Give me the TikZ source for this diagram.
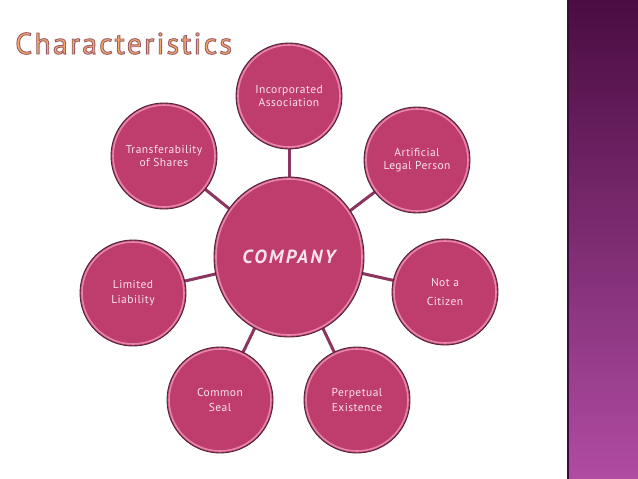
\documentclass[tikz,border=0pt]{standalone}
\usepackage{fontspec}
\setmainfont{PT Sans}
\usetikzlibrary{shapes.geometric,calc}
\definecolor{circfill}{HTML}{BE3D6C}
\definecolor{circline}{HTML}{4E2236}
\definecolor{hl}{HTML}{E585AC}
\definecolor{conncol}{HTML}{8A3660}
\definecolor{txt}{HTML}{FBE3EE}
\definecolor{bartop}{HTML}{4A0C42}
\definecolor{barmid}{HTML}{7C2E72}
\definecolor{barbot}{HTML}{B04CA2}
\definecolor{barline}{HTML}{3A0C32}
\definecolor{titlefill}{HTML}{F3A868}
\pgfdeclarelayer{bg}
\pgfsetlayers{bg,main}
\newcommand{\outlinetext}[1]{\special{pdf:literal direct 2 Tr 0.9 w 0.60 0.36 0.42 RG}#1\special{pdf:literal direct 0 Tr}}
\tikzset{
  smallc/.style={circle, fill=circfill, draw=circline, line width=0.9pt,
    minimum size=106pt, inner sep=0pt, text=txt, align=center,
    font=\fontsize{11.5}{13.5}\selectfont\addfontfeatures{LetterSpace=4},
    path picture={\draw[hl, line width=1.6pt] (path picture bounding box.center) circle (51pt);}},
  bigc/.style={ellipse, fill=circfill, draw=circline, line width=0.9pt,
    minimum width=150pt, minimum height=160pt, inner sep=0pt, text=txt, align=center,
    font=\fontsize{19}{21}\selectfont\bfseries\itshape\addfontfeatures{LetterSpace=12},
    path picture={\draw[hl, line width=1.6pt] (path picture bounding box.center) ellipse (73pt and 78pt);}},
  conn/.style={draw=conncol, line width=3pt},
  titletext/.style={font=\fontsize{30}{32}\selectfont\addfontfeatures{LetterSpace=7}, inner sep=0pt, anchor=base west, text=titlefill}
}
\begin{document}
\begin{tikzpicture}[x=1pt,y=-1pt]
\useasboundingbox (0,0) rectangle (638,479);
\begin{pgfonlayer}{bg}
  \fill[white] (0,0) rectangle (638,479);
  \shade[top color=bartop, middle color=barmid, bottom color=barbot] (568,0) rectangle (638,479);
  \fill[barline] (567,0) rectangle (569,479);
\end{pgfonlayer}
% title
\node[titletext] (title) at (15,54) {\outlinetext{Characteristics}};
% circles
\node[bigc] (company) at (289,257) {COMPANY};
\node[smallc] (inc) at (289,96) {Incorporated\\Association};
\node[smallc] (art) at (417,160) {Artificial\\Legal Person};
\node[smallc] (cit) at (445,292) {Not a\\[5pt]Citizen};
\node[smallc] (per) at (357,400) {Perpetual\\[2pt]Existence};
\node[smallc] (seal) at (220,400) {Common\\[2pt]Seal};
\node[smallc] (lim) at (133,293) {Limited\\[2pt]Liability};
\node[smallc] (tra) at (164,156) {Transferability\\of Shares};
% connectors
\begin{pgfonlayer}{bg}
  \foreach \n in {inc,art,cit,per,seal,lim,tra}
    \draw[conn] (company.center) -- (\n.center);
\end{pgfonlayer}
\end{tikzpicture}
\end{document}
